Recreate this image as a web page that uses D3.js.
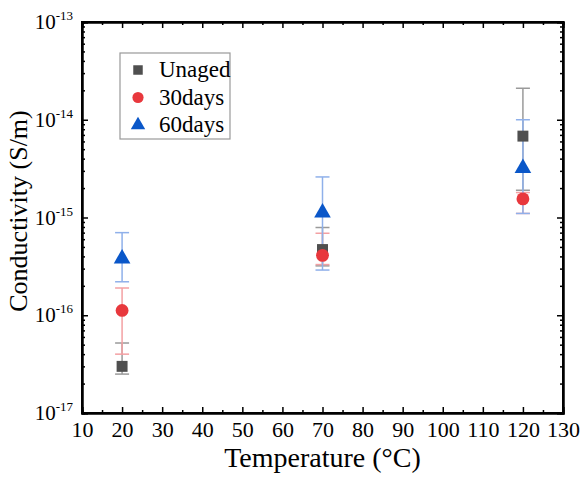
<!DOCTYPE html>
<html>
<head>
<meta charset="utf-8">
<script src="https://cdn.jsdelivr.net/npm/d3@7"></script>
<style>
  body { margin: 0; background: #fff; }
  svg text { font-family: 'Liberation Serif', 'Times New Roman', 'DejaVu Serif', serif !important; fill: #000; }
</style>
</head>
<body>
<div id="chart"></div>
<script>
// data
var temps = [20, 70, 120];
var seriesNames = ["Unaged", "30days", "60days"];
var unaged = [3.0e-17, 4.7e-16, 6.8e-15];
var unagedLo = [2.5e-17, 3.2e-16, 1.9e-15];
var unagedHi = [5.2e-17, 7.9e-16, 2.1e-14];
var d30 = [1.12e-16, 4.1e-16, 1.55e-15];
var d30Lo = [4.0e-17, 3.3e-16, 1.1e-15];
var d30Hi = [1.9e-16, 6.9e-16, 1.8e-15];
var d60 = [3.8e-16, 1.12e-15, 3.2e-15];
var d60Lo = [2.2e-16, 2.9e-16, 1.1e-15];
var d60Hi = [7.0e-16, 2.6e-15, 1.0e-14];
var xTicks = [10, 20, 30, 40, 50, 60, 70, 80, 90, 100, 110, 120, 130];
var yExps = [-17, -16, -15, -14, -13];

var margin = {top: 22, right: 24, bottom: 64, left: 82},
    width = 587 - margin.left - margin.right,
    height = 477 - margin.top - margin.bottom;

var svg = d3.select("#chart")
    .append("svg")
        .attr("width", 587)
        .attr("height", 477)
    .append("g")
        .attr("transform", "translate(" + margin.left + "," + margin.top + ")");

var x = d3.scaleLinear().domain([10, 130]).range([0, width]);
var y = d3.scaleLog().domain([1e-17, 1e-13]).range([height, 0]);

var colors = ["#4f4f4f", "#e8383d", "#0a57c9"];
var errColors = ["#9a9a9a", "#f3a0a3", "#8fb0ea"];

var series = [
  {name: seriesNames[0], v: unaged, lo: unagedLo, hi: unagedHi, sym: d3.symbolSquare, size: 120},
  {name: seriesNames[1], v: d30, lo: d30Lo, hi: d30Hi, sym: d3.symbolCircle, size: 130},
  {name: seriesNames[2], v: d60, lo: d60Lo, hi: d60Hi, sym: d3.symbolTriangle, size: 120}
];

// minor log ticks
var minorY = [];
for (var e = -17; e < -13; e++) {
  for (var m = 2; m < 10; m++) minorY.push(m * Math.pow(10, e));
}
var minorX = d3.range(15, 130, 10);

// axes: ticks point inward
function drawAxes() {
  var g = svg.append("g").attr("class", "axes");
  g.append("g")
    .attr("transform", "translate(0," + height + ")")
    .call(d3.axisBottom(x).tickValues(xTicks).tickSize(-6).tickPadding(8).tickFormat(d3.format("d")));
  g.append("g")
    .attr("transform", "translate(0," + height + ")")
    .call(d3.axisBottom(x).tickValues(minorX).tickSize(-3).tickFormat(""));
  g.append("g").call(d3.axisTop(x).tickValues(xTicks).tickSize(-6).tickFormat(""));
  g.append("g").call(d3.axisTop(x).tickValues(minorX).tickSize(-3).tickFormat(""));

  g.append("g")
    .call(d3.axisLeft(y).tickValues(yExps.map(function(e) { return Math.pow(10, e); })).tickSize(-6).tickFormat(""));
  g.append("g").call(d3.axisLeft(y).tickValues(minorY).tickSize(-3).tickFormat(""));
  g.append("g")
    .attr("transform", "translate(" + width + ",0)")
    .call(d3.axisRight(y).tickValues(yExps.map(function(e) { return Math.pow(10, e); })).tickSize(-6).tickFormat(""));
  g.append("g")
    .attr("transform", "translate(" + width + ",0)")
    .call(d3.axisRight(y).tickValues(minorY).tickSize(-3).tickFormat(""));

  g.selectAll("g").attr("font-family", null).attr("font-size", null);
  g.selectAll(".domain").attr("stroke", "#000").attr("stroke-width", 2);
  g.selectAll(".tick line").attr("stroke", "#000").attr("stroke-width", 1.5);
  g.selectAll(".tick text").style("font-size", "22px");

  // y tick labels with superscripts
  var yl = g.append("g");
  yExps.forEach(function(e) {
    var t = yl.append("text")
      .attr("x", -9)
      .attr("y", y(Math.pow(10, e)) + 7)
      .attr("text-anchor", "end")
      .style("font-size", "21px");
    t.append("tspan").text("10");
    t.append("tspan").attr("dy", -9).style("font-size", "13px").text(e);
  });

  svg.append("rect")
    .attr("width", width).attr("height", height)
    .attr("fill", "none").attr("stroke", "#000").attr("stroke-width", 2);
}

drawAxes();

// error bars then markers
series.forEach(function(s, i) {
  var g = svg.append("g");
  temps.forEach(function(t, j) {
    var cx = x(t);
    g.append("line").attr("x1", cx).attr("x2", cx).attr("y1", y(s.lo[j])).attr("y2", y(s.hi[j]))
      .attr("stroke", errColors[i]).attr("stroke-width", 1.5);
    [s.lo[j], s.hi[j]].forEach(function(v) {
      g.append("line").attr("x1", cx - 7).attr("x2", cx + 7).attr("y1", y(v)).attr("y2", y(v))
        .attr("stroke", errColors[i]).attr("stroke-width", 1.5);
    });
  });
});

series.forEach(function(s, i) {
  svg.append("g").selectAll("path")
    .data(temps)
    .enter().append("path")
      .attr("d", d3.symbol().type(s.sym).size(s.size))
      .attr("transform", function(d, j) { return "translate(" + x(d) + "," + y(s.v[j]) + ")"; })
      .attr("fill", colors[i]);
});

// legend
var leg = svg.append("g").attr("transform", "translate(" + (120 - margin.left) + "," + (53 - margin.top) + ")");
leg.append("rect").attr("width", 110).attr("height", 86)
  .attr("fill", "#fff").attr("stroke", "#999").attr("stroke-width", 1.2);
series.forEach(function(s, i) {
  var yy = 17 + i * 27.5;
  leg.append("path")
    .attr("d", d3.symbol().type(s.sym).size(s.size * 0.75))
    .attr("transform", "translate(18," + yy + ")")
    .attr("fill", colors[i]);
  leg.append("text").attr("x", 39).attr("y", yy + 7).style("font-size", "23px").text(s.name);
});

// axis titles
svg.append("text")
  .attr("x", width / 2).attr("y", height + 54)
  .attr("text-anchor", "middle").style("font-size", "28px")
  .text("Temperature (°C)");

svg.append("text")
  .attr("transform", "translate(" + (-55) + "," + (211 - margin.top) + ") rotate(-90)")
  .attr("text-anchor", "middle").style("font-size", "26px")
  .text("Conductivity (S/m)");
</script>
</body>
</html>
